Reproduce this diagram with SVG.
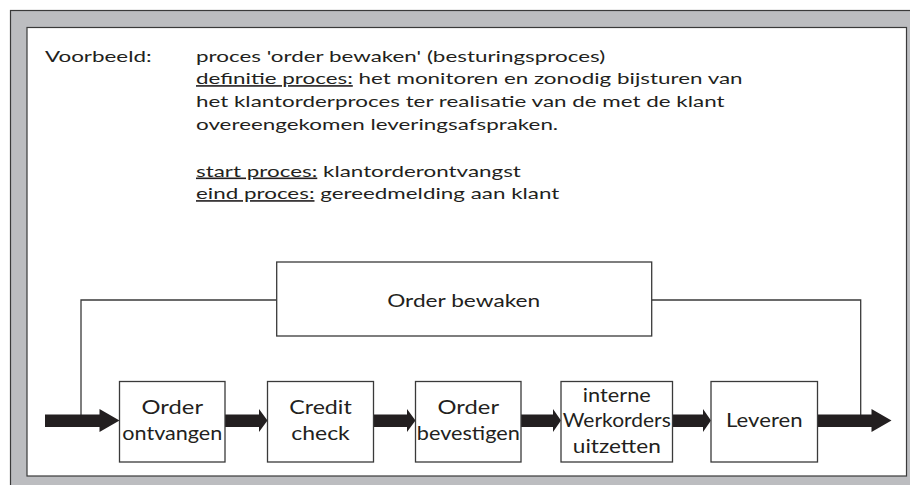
<svg xmlns="http://www.w3.org/2000/svg" width="910" height="485" viewBox="0 0 910 485">
  <style>
    .frame { fill: #bcbdc0; stroke: #3a3a3a; stroke-width: 1.2; }
    .panel { fill: #ffffff; stroke: #3a3a3a; stroke-width: 1.2; }
    .box { fill: #ffffff; stroke: #3a3a3a; stroke-width: 1.3; }
    .line { fill: none; stroke: #3a3a3a; stroke-width: 1.3; }
    .arrow { fill: #231f20; }
    text { font-family: Lato, "Liberation Sans", sans-serif; fill: #231f20; }
    .hdr { font-size: 16px; }
    .ctl { font-size: 16.3px; text-anchor: middle; }
    .lbl { font-size: 19px; text-anchor: middle; }
    .u { text-decoration: underline; }
  </style>

  <!-- background frame and white panel -->
  <rect class="frame" x="10.5" y="10.5" width="905" height="480"/>
  <rect class="panel" x="27" y="27.5" width="879.5" height="448.5"/>

  <!-- description block (wide type: horizontally stretched) -->
  <g id="description" class="hdr">
    <text transform="translate(45,62) scale(1.4,1)">Voorbeeld:</text>
    <text transform="translate(196,62) scale(1.4,1)">proces 'order bewaken' (besturingsproces)</text>
    <text transform="translate(196,84.3) scale(1.4,1)"><tspan class="u">definitie proces:</tspan> het monitoren en zonodig bijsturen van</text>
    <text transform="translate(196,107.3) scale(1.4,1)">het klantorderproces ter realisatie van de met de klant</text>
    <text transform="translate(196,130) scale(1.4,1)">overeengekomen leveringsafspraken.</text>
    <text transform="translate(196,176.7) scale(1.4,1)"><tspan class="u">start proces:</tspan> klantorderontvangst</text>
    <text transform="translate(196,199.3) scale(1.4,1)"><tspan class="u">eind proces:</tspan> gereedmelding aan klant</text>
  </g>

  <!-- connectors: feedback loop and flow arrows -->
  <g id="connectors">
    <polyline class="line" points="276.7,300 81,300 81,415"/>
    <polyline class="line" points="651.7,300 860.7,300 860.7,415"/>
    <polygon class="arrow" points="45,414.5 99.5,414.5 99.5,409 119.5,420.5 99.5,432 99.5,427 45,427"/>
    <polygon class="arrow" points="225,414.5 259,414.5 259,409 267.5,420.5 259,432 259,427 225,427"/>
    <polygon class="arrow" points="373.5,414.5 407,414.5 407,409 415.5,420.5 407,432 407,427 373.5,427"/>
    <polygon class="arrow" points="521,414.5 553,414.5 553,409 561,420.5 553,432 553,427 521,427"/>
    <polygon class="arrow" points="672.5,414.5 703,414.5 703,409 711,420.5 703,432 703,427 672.5,427"/>
    <polygon class="arrow" points="817.5,414.5 871.5,414.5 871.5,409 891.5,420.5 871.5,432 871.5,427 817.5,427"/>
  </g>

  <!-- control process -->
  <g id="order-bewaken">
    <rect class="box" x="276.7" y="262" width="375" height="74"/>
    <text class="ctl" x="463.7" y="306.7" textLength="153" lengthAdjust="spacingAndGlyphs">Order bewaken</text>
  </g>

  <!-- primary process steps -->
  <g id="order-ontvangen">
    <rect class="box" x="119.5" y="381.5" width="105.5" height="80.5"/>
    <text class="lbl" x="172.3" y="414" textLength="61.5" lengthAdjust="spacingAndGlyphs">Order</text>
    <text class="lbl" x="172.3" y="440" textLength="100" lengthAdjust="spacingAndGlyphs">ontvangen</text>
  </g>
  <g id="credit-check">
    <rect class="box" x="267.5" y="381.5" width="106" height="80.5"/>
    <text class="lbl" x="320.5" y="414" textLength="62.5" lengthAdjust="spacingAndGlyphs">Credit</text>
    <text class="lbl" x="320.5" y="440" textLength="58.5" lengthAdjust="spacingAndGlyphs">check</text>
  </g>
  <g id="order-bevestigen">
    <rect class="box" x="415.5" y="381.5" width="105.5" height="80.5"/>
    <text class="lbl" x="468.3" y="414" textLength="61.5" lengthAdjust="spacingAndGlyphs">Order</text>
    <text class="lbl" x="468.3" y="440" textLength="103" lengthAdjust="spacingAndGlyphs">bevestigen</text>
  </g>
  <g id="werkorders-uitzetten">
    <rect class="box" x="561" y="381.5" width="111.5" height="80.5"/>
    <text class="lbl" x="616.8" y="401.7" textLength="68" lengthAdjust="spacingAndGlyphs">interne</text>
    <text class="lbl" x="616.8" y="427.3" textLength="108" lengthAdjust="spacingAndGlyphs">Werkorders</text>
    <text class="lbl" x="616.8" y="453.3" textLength="88" lengthAdjust="spacingAndGlyphs">uitzetten</text>
  </g>
  <g id="leveren">
    <rect class="box" x="711" y="381.5" width="106.5" height="80.5"/>
    <text class="lbl" x="764.3" y="427.3" textLength="76.5" lengthAdjust="spacingAndGlyphs">Leveren</text>
  </g>
</svg>
